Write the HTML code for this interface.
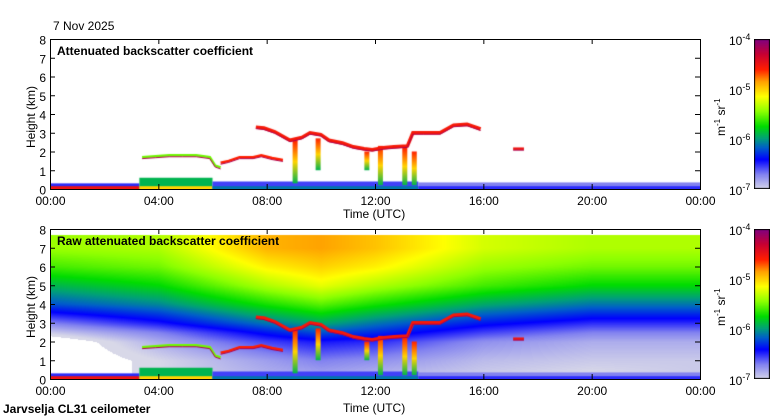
<!DOCTYPE html>
<html><head><meta charset="utf-8">
<style>
body{margin:0;background:#fff;width:780px;height:420px;overflow:hidden;position:relative;font-family:"Liberation Sans",sans-serif;color:#000}
.t{position:absolute;font-size:12px;white-space:nowrap;line-height:12px}
.b{font-weight:bold}
canvas{position:absolute}
svg{position:absolute;left:0;top:0}
</style></head><body>
<div class="t" style="left:53px;top:20px">7 Nov 2025</div>
<canvas id="c1" width="650" height="150" style="left:50px;top:39px"></canvas>
<canvas id="c2" width="650" height="150" style="left:50px;top:229px"></canvas>
<canvas id="cb1" width="16" height="150" style="left:754px;top:39px"></canvas>
<canvas id="cb2" width="16" height="150" style="left:754px;top:229px"></canvas>
<svg id="ax" width="780" height="420"></svg>
<div class="t b" style="left:57px;top:45px">Attenuated backscatter coefficient</div>
<div class="t b" style="left:57px;top:235px">Raw attenuated backscatter coefficient</div>
<div class="t" style="left:343px;top:208px">Time (UTC)</div>
<div class="t" style="left:343px;top:402px">Time (UTC)</div>
<div class="t b" style="left:3px;top:403px">Jarvselja CL31 ceilometer</div>
<div class="t" style="left:25px;top:148px;transform:rotate(-90deg);transform-origin:0 0">Height (km)</div>
<div class="t" style="left:25px;top:338px;transform:rotate(-90deg);transform-origin:0 0">Height (km)</div>
<div class="t" style="left:712px;top:136px;transform:rotate(-90deg);transform-origin:0 0">m<sup style="font-size:8px">-1</sup> sr<sup style="font-size:8px">-1</sup></div>
<div class="t" style="left:712px;top:326px;transform:rotate(-90deg);transform-origin:0 0">m<sup style="font-size:8px">-1</sup> sr<sup style="font-size:8px">-1</sup></div>
<script>
// ---- data ----
const xTicks=["00:00","04:00","08:00","12:00","16:00","20:00","00:00"];
const yTicks=[0,1,2,3,4,5,6,7,8];
const cbExps=[-4,-5,-6,-7];
const cloudUpperH=[7.6,7.9,8.3,8.86,9.3,9.6,10.0,10.3,10.8,11.2,11.6,11.9,12.3,12.7,13.2,13.4,13.8,14.4,14.9,15.4,15.6,15.9];
const cloudUpperK=[3.3,3.25,3.05,2.6,2.75,3.0,2.9,2.6,2.45,2.25,2.15,2.1,2.2,2.25,2.3,3.0,3.0,3.0,3.4,3.45,3.35,3.2];
const cloudMidH=[6.3,6.6,7.0,7.5,7.8,8.2,8.6];
const cloudMidK=[1.4,1.5,1.7,1.7,1.8,1.65,1.55];
const cloudLowH=[3.4,3.9,4.4,4.9,5.4,5.9,6.1,6.3];
const cloudLowK=[1.7,1.75,1.8,1.8,1.8,1.7,1.25,1.15];
const cloudSmallH=[17.1,17.5];
const cloudSmallK=[2.15,2.15];
const streakH=[9.05,9.9,11.7,12.2,13.1,13.45];
const streakTop=[2.6,2.7,2.0,2.3,2.2,2.0];
const streakBot=[0.3,1.0,1.0,0.2,0.2,0.2];
const surfStart=[0,3.3,6.0,13.6];
const surfEnd=[3.3,6.0,13.6,24];
const surfTop=[0.3,0.6,0.4,0.35];
const surfVal=[-6.5,-5.9,-6.55,-6.7];
const surfBaseVal=[-4.5,-5.0,-6.1,-6.5];
const gridH=[0,4,8,10,12,16,20,24];
const gridK=[0.4,1,2,2.5,3,4,5,6,7,7.7];
const gridV=[
[-7.2,-7.0,-6.85,-6.8,-6.85,-6.95,-7.0,-6.95],
[-7.2,-7.0,-6.8,-6.7,-6.75,-6.9,-6.95,-6.95],
[-7.2,-6.85,-6.55,-6.45,-6.5,-6.75,-6.85,-6.85],
[-6.95,-6.7,-6.35,-6.2,-6.3,-6.55,-6.7,-6.7],
[-6.7,-6.45,-6.1,-5.95,-6.1,-6.35,-6.5,-6.5],
[-6.2,-6.05,-5.7,-5.55,-5.7,-5.95,-6.1,-6.1],
[-5.9,-5.75,-5.35,-5.2,-5.35,-5.6,-5.75,-5.75],
[-5.6,-5.5,-5.1,-5.0,-5.1,-5.4,-5.5,-5.5],
[-5.4,-5.35,-4.9,-4.85,-4.95,-5.25,-5.35,-5.35],
[-5.4,-5.35,-4.9,-4.85,-4.95,-5.25,-5.35,-5.35]];

// ---- scales ----
const W=650,H=150;
const xs=h=>h/24*W;
const ys=k=>H-k/8*H;
const stops=[[0,[216,216,232]],[0.1,[130,130,240]],[0.2,[0,0,255]],[0.28,[0,96,200]],[0.34,[0,160,120]],[0.42,[0,220,0]],[0.52,[140,255,0]],[0.62,[255,255,0]],[0.72,[255,160,0]],[0.8,[255,30,0]],[0.9,[200,0,50]],[1,[128,0,128]]];
function cmap(v){
  if(v<-7.05) return [255,255,255];
  let t=Math.max(0,Math.min(1,(v+7)/3));
  for(let i=1;i<stops.length;i++){if(t<=stops[i][0]){const a=stops[i-1],b=stops[i],f=(t-a[0])/(b[0]-a[0]);return a[1].map((c,j)=>Math.round(c+(b[1][j]-c)*f));}}
  return stops[stops.length-1][1];
}
const css=v=>'rgb('+cmap(v).join(',')+')';
function interp(arr,x){for(let i=1;i<arr.length;i++){if(x<=arr[i])return [i-1,(x-arr[i-1])/(arr[i]-arr[i-1])];}return [arr.length-2,1];}
function gridVal(h,k){
  k=Math.max(gridK[0],Math.min(gridK[gridK.length-1],k));
  const [i,fx]=interp(gridH,h),[j,fy]=interp(gridK,k);
  const a=gridV[j][i]*(1-fx)+gridV[j][i+1]*fx, b=gridV[j+1][i]*(1-fx)+gridV[j+1][i+1]*fx;
  return a*(1-fy)+b*fy;
}
function drawFeatures(ctx){
  for(let i=0;i<surfStart.length;i++){
    const x0=xs(surfStart[i]),w=xs(surfEnd[i])-x0;
    ctx.fillStyle=css(surfVal[i]);
    ctx.fillRect(x0,ys(surfTop[i]),w,ys(0)-ys(surfTop[i]));
    ctx.fillStyle=css(surfBaseVal[i]);
    ctx.fillRect(x0,ys(0.15),w,ys(0)-ys(0.15));
  }
  for(let i=0;i<streakH.length;i++){
    const x=xs(streakH[i]),g=ctx.createLinearGradient(0,ys(streakTop[i]),0,ys(streakBot[i]));
    g.addColorStop(0,css(-4.6));g.addColorStop(0.5,css(-5.0));g.addColorStop(1,css(-5.9));
    ctx.fillStyle=g;ctx.fillRect(x-2.5,ys(streakTop[i]),5,ys(streakBot[i])-ys(streakTop[i]));
  }
  const lines=[[cloudUpperH,cloudUpperK,-4.55,3.5],[cloudMidH,cloudMidK,-4.6,2.5],[cloudLowH,cloudLowK,-5.5,2.5],[cloudSmallH,cloudSmallK,-4.5,2.5]];
  lines.forEach(([hs,ks,v,w])=>{
    ctx.strokeStyle=css(v);ctx.lineWidth=w;ctx.beginPath();
    hs.forEach((h,i)=>{i?ctx.lineTo(xs(h),ys(ks[i])):ctx.moveTo(xs(h),ys(ks[i]));});ctx.stroke();
    ctx.strokeStyle=css(-4.2);ctx.lineWidth=1;ctx.beginPath();
    hs.forEach((h,i)=>{i?ctx.lineTo(xs(h),ys(ks[i])+1.5):ctx.moveTo(xs(h),ys(ks[i])+1.5);});ctx.stroke();
  });
}
const c1=document.getElementById('c1').getContext('2d');
c1.fillStyle='#fff';c1.fillRect(0,0,W,H);drawFeatures(c1);
const c2=document.getElementById('c2').getContext('2d');
const img=c2.createImageData(W,H);
for(let py=0;py<H;py++)for(let px=0;px<W;px++){
  const k=(H-py)/H*8,h=px/W*24;let col=[255,255,255];
  if(k<=7.7) col=cmap(gridVal(h,k));
  const o=(py*W+px)*4;img.data[o]=col[0];img.data[o+1]=col[1];img.data[o+2]=col[2];img.data[o+3]=255;
}
c2.putImageData(img,0,0);drawFeatures(c2);
['cb1','cb2'].forEach(id=>{const c=document.getElementById(id).getContext('2d');
  for(let y=0;y<150;y++){c.fillStyle=css(-4-3*y/150);c.fillRect(0,y,16,1);}
  c.strokeStyle='#000';c.strokeRect(0.5,0.5,15,149);});
const svg=document.getElementById('ax');const NS='http://www.w3.org/2000/svg';
function el(tag,attrs,txt){const e=document.createElementNS(NS,tag);for(const a in attrs)e.setAttribute(a,attrs[a]);if(txt!==undefined)e.textContent=txt;svg.appendChild(e);return e;}
[39,229].forEach((top,pi)=>{
  const r=el('rect',{x:50.5,y:top+0.5,width:650,height:150,fill:'none',stroke:'#000'});
  
  
  xTicks.forEach((lab,i)=>{const x=50+xs(i*4)+0.5;
    el('line',{x1:x,x2:x,y1:top,y2:top+5,stroke:'#000'});el('line',{x1:x,x2:x,y1:top+150,y2:top+145,stroke:'#000'});
    const t=el('text',{x:x,y:top+166,'font-size':12,'text-anchor':'middle','font-family':'Liberation Sans'},lab);
    
    
  });
  yTicks.forEach(k=>{const y=top+ys(k)+0.5;
    el('line',{x1:50,x2:55,y1:y,y2:y,stroke:'#000'});el('line',{x1:700,x2:695,y1:y,y2:y,stroke:'#000'});
    const t=el('text',{x:46,y:y+5,'font-size':12,'text-anchor':'end','font-family':'Liberation Sans'},k);
    
    
  });
  cbExps.forEach((e,i)=>{const y=top+i*50;
    const t=el('text',{x:729,y:y+6,'font-size':12,'font-family':'Liberation Sans'});
    
    
    const a=document.createElementNS(NS,'tspan');a.textContent='10';t.appendChild(a);
    const b=document.createElementNS(NS,'tspan');b.setAttribute('dy','-5');b.setAttribute('font-size','9');b.textContent=String(e);t.appendChild(b);
  });
});
</script>
</body></html>
